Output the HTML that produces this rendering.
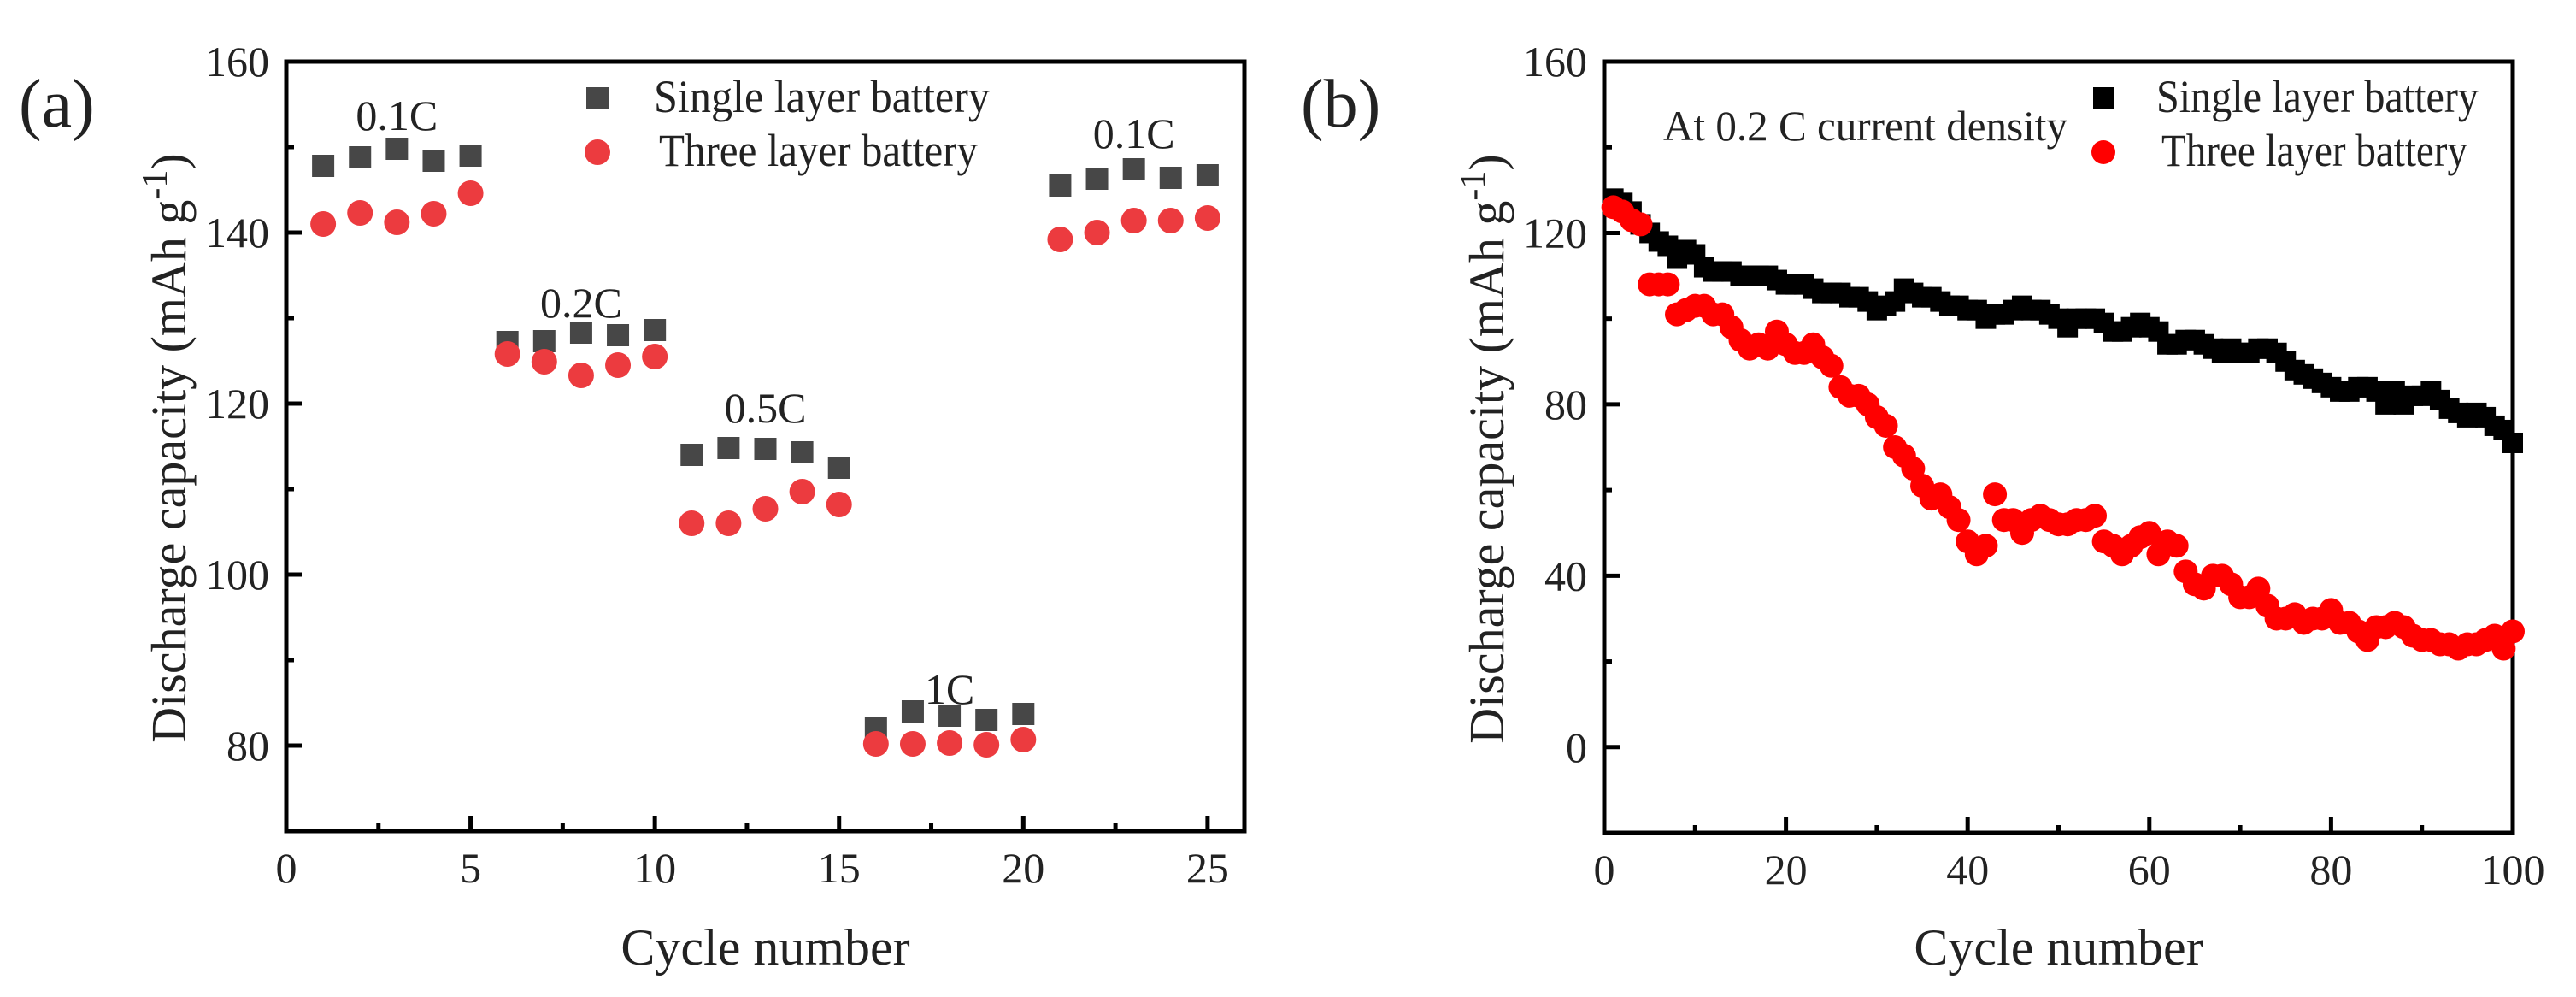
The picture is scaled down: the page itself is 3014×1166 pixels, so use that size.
<!DOCTYPE html>
<html><head><meta charset="utf-8"><style>
html,body{margin:0;padding:0;background:#fff;}
svg{display:block;}
text{font-family:"Liberation Serif",serif;fill:#222;}
</style></head><body>
<svg id="fig" width="3014" height="1166" viewBox="0 0 3014 1166">
<g id="pa"></g>
<g id="pb"></g>
</svg>
<script>
// Panel (a) data
const cyclesA = [1,2,3,4,5,6,7,8,9,10,11,12,13,14,15,16,17,18,19,20,21,22,23,24,25];
const singleA = [147.8,148.8,149.8,148.4,149,127.2,127.3,128.3,128,128.6,114,114.8,114.7,114.3,112.5,82,84,83.5,83,83.7,145.5,146.3,147.4,146.4,146.7];
const threeA = [141,142.3,141.2,142.2,144.6,125.8,124.9,123.3,124.5,125.5,106,106,107.7,109.7,108.2,80.2,80.2,80.3,80.1,80.7,139.2,140,141.4,141.4,141.7];
const xTicksA = [0,5,10,15,20,25];
const yTicksA = [80,100,120,140,160];
const rateLabels = ["0.1C","0.2C","0.5C","1C","0.1C"];
const rateX = [3,8,13,18,23];
const rateY = [153.7,131.8,119.5,86.6,151.6];
// Panel (b) data
const singleB = [128,127,125,122,120,118,117,114,116,115,112,111,111,111,110,110,110,110,109,108,108,108,107,106,106,106,105,105,104,102,103,104,107,106,105,105,104,103,103,102,102,100,101,101,102,103,102,102,101,100,98,100,100,100,99,97,97,98,99,98,97,94,94,95,95,94,93,92,93,92,92,93,93,92,90,88,87,86,85,84,83,83,84,84,83,80,83,80,82,82,83,81,79,78,77,78,77,75,74,71];
const threeB = [126,125,123,122,108,108,108,101,102,103,103,101,101,98,95,93,94,93,97,94,92,92,94,91,89,84,82,82,80,77,75,70,68,65,61,58,59,56,53,48,45,47,59,53,53,50,53,54,53,52,52,53,53,54,48,47,45,47,49,50,45,48,47,41,38,37,40,40,38,35,35,37,33,30,30,31,29,30,30,32,29,29,27,25,28,28,29,28,26,25,25,24,24,23,24,24,25,26,23,27];
const xTicksB = [0,20,40,60,80,100];
const yTicksB = [0,40,80,120,160];

const NS="http://www.w3.org/2000/svg";
function mk(parent,tag,attrs,txt){const e=document.createElementNS(NS,tag);for(const k in attrs)e.setAttribute(k,attrs[k]);if(txt!==undefined)e.textContent=txt;parent.appendChild(e);return e;}

function axes(g,o){
  const X=v=>o.x0+(v-o.xmin)/(o.xmax-o.xmin)*(o.x1-o.x0);
  const Y=v=>o.y1-(v-o.ymin)/(o.ymax-o.ymin)*(o.y1-o.y0);
  const fr=mk(g,'rect',{x:o.x0,y:o.y0,width:o.x1-o.x0,height:o.y1-o.y0,fill:'none',stroke:'#000','stroke-width':5});
  
  o.xt.forEach((v,i)=>{
    const t=mk(g,'line',{x1:X(v),x2:X(v),y1:o.y1,y2:o.y1-18,stroke:'#000','stroke-width':5});
    
    if(i<o.xt.length-1){const m=(v+o.xt[i+1])/2;const mt=mk(g,'line',{x1:X(m),x2:X(m),y1:o.y1,y2:o.y1-9,stroke:'#000','stroke-width':5});
      }
    const l=mk(g,'text',{x:X(v),y:o.y1+60,'font-size':50,'text-anchor':'middle'},String(v));
    
  });
  o.yt.forEach((v,i)=>{
    const t=mk(g,'line',{x1:o.x0,x2:o.x0+18,y1:Y(v),y2:Y(v),stroke:'#000','stroke-width':5});
    
    const l=mk(g,'text',{x:o.x0-20,y:Y(v)+17,'font-size':50,'text-anchor':'end'},String(v));
    
  });
  o.ym.forEach(v=>{const mt=mk(g,'line',{x1:o.x0,x2:o.x0+9,y1:Y(v),y2:Y(v),stroke:'#000','stroke-width':5});
    });
  const xt=mk(g,'text',{x:(o.x0+o.x1)/2,y:1128,'font-size':60,'text-anchor':'middle'},'Cycle number');
  
  const yt=mk(g,'text',{transform:`translate(${o.x0-118},${(o.y0+o.y1)/2+2}) rotate(-90)`,'font-size':58,'text-anchor':'middle'});
  
  mk(yt,'tspan',{},'Discharge capacity (mAh g');
  mk(yt,'tspan',{dy:-22,'font-size':42},'-1');
  mk(yt,'tspan',{dy:22},')');
  return {X,Y};
}

// Panel a
const ga=document.getElementById('pa');
const A=axes(ga,{x0:335,x1:1456,y0:72,y1:972,xmin:0,xmax:26,ymin:70,ymax:160,xt:xTicksA,yt:yTicksA,ym:[90,110,130,150]});
cyclesA.forEach((c,i)=>{
  const s=mk(ga,'rect',{x:A.X(c)-13,y:A.Y(singleA[i])-13,width:26,height:26,fill:'#474747'});
  
});
cyclesA.forEach((c,i)=>{
  const p=mk(ga,'circle',{cx:A.X(c),cy:A.Y(threeA[i]),r:15,fill:'#ec3b3f'});
  
});
rateLabels.forEach((t,i)=>{
  const l=mk(ga,'text',{x:A.X(rateX[i]),y:A.Y(rateY[i])+17,'font-size':50,'text-anchor':'middle'},t);
  
});
let e;
e=mk(ga,'text',{x:22,y:148,'font-size':80},'(a)');
e=mk(ga,'rect',{x:686,y:102,width:26,height:26,fill:'#474747'});
e=mk(ga,'text',{x:765,y:131,'font-size':54,textLength:393,lengthAdjust:'spacingAndGlyphs'},'Single layer battery');
e=mk(ga,'circle',{cx:699,cy:178,r:15,fill:'#ec3b3f'});
e=mk(ga,'text',{x:771,y:194,'font-size':54,textLength:373,lengthAdjust:'spacingAndGlyphs'},'Three layer battery');

// Panel b
const gb=document.getElementById('pb');
const B=axes(gb,{x0:1877,x1:2940,y0:72,y1:974,xmin:0,xmax:100,ymin:-20,ymax:160,xt:xTicksB,yt:yTicksB,ym:[-20,20,60,100,140]});
singleB.forEach((v,i)=>{
  const s=mk(gb,'rect',{x:B.X(i+1)-12,y:B.Y(v)-12,width:24,height:24,fill:'#000'});
  
});
threeB.forEach((v,i)=>{
  const p=mk(gb,'circle',{cx:B.X(i+1),cy:B.Y(v),r:14,fill:'#ff0000'});
  
});
e=mk(gb,'text',{x:1522,y:148,'font-size':80},'(b)');
e=mk(gb,'text',{x:1946,y:164,'font-size':50,textLength:473,lengthAdjust:'spacingAndGlyphs'},'At 0.2 C current density');
e=mk(gb,'rect',{x:2449,y:102,width:24,height:26,fill:'#000'});
e=mk(gb,'text',{x:2523,y:131,'font-size':54,textLength:377,lengthAdjust:'spacingAndGlyphs'},'Single layer battery');
e=mk(gb,'circle',{cx:2461,cy:178,r:14,fill:'#ff0000'});
e=mk(gb,'text',{x:2529,y:194,'font-size':54,textLength:358,lengthAdjust:'spacingAndGlyphs'},'Three layer battery');
</script>
</body></html>
